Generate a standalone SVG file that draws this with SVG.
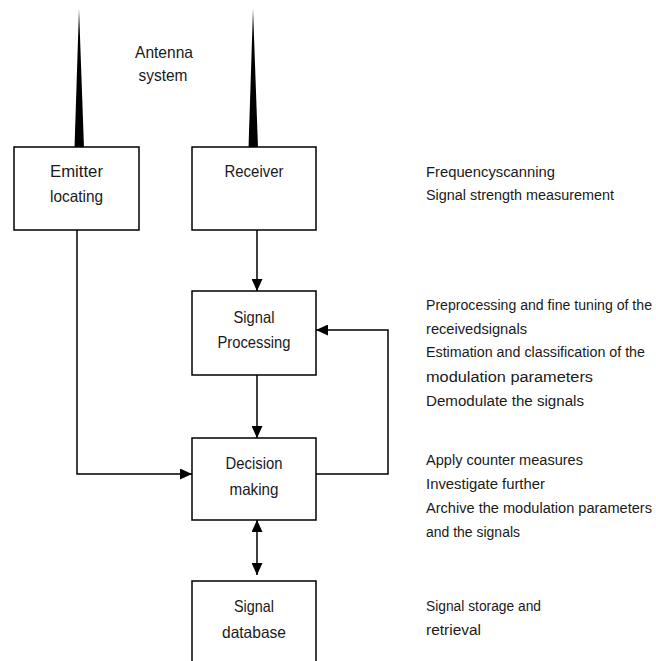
<svg xmlns="http://www.w3.org/2000/svg" width="656" height="661" viewBox="0 0 656 661">
<defs>
<marker id="ah" markerUnits="userSpaceOnUse" markerWidth="13" markerHeight="11" refX="12" refY="5.5" orient="auto-start-reverse">
<path d="M0,0 L12,5.5 L0,11 z" fill="#000"/>
</marker>
<style>
.box{fill:#fff;stroke:#000;stroke-width:1.5}
.lbl{font-family:"Liberation Sans",Arial,sans-serif;font-size:16.5px;fill:#1a1a1a;text-anchor:middle}
.note{font-family:"Liberation Sans",Arial,sans-serif;font-size:15.5px;fill:#1a1a1a}
.long{font-size:14px}
.con{fill:none;stroke:#000;stroke-width:1.5}
</style>
</defs>
<rect width="656" height="661" fill="#fff"/>
<g id="antenna">
<polygon points="79,9 74.5,148 84,148" fill="#000"/>
<polygon points="253,9 248.5,148 258,148" fill="#000"/>
<text class="lbl" x="164" y="58" textLength="58" lengthAdjust="spacingAndGlyphs">Antenna</text>
<text class="lbl" x="163" y="81" textLength="49" lengthAdjust="spacingAndGlyphs">system</text>
</g>
<g id="emitter">
<rect class="box" x="14" y="147" width="125" height="83"/>
<text class="lbl" x="76.5" y="177" textLength="53" lengthAdjust="spacingAndGlyphs">Emitter</text>
<text class="lbl" x="76.5" y="202" textLength="53" lengthAdjust="spacingAndGlyphs">locating</text>
</g>
<g id="receiver">
<rect class="box" x="192" y="147" width="124" height="83"/>
<text class="lbl" x="254" y="177" textLength="59" lengthAdjust="spacingAndGlyphs">Receiver</text>
</g>
<g id="signal-processing">
<rect class="box" x="192" y="291" width="124" height="84"/>
<text class="lbl" x="254" y="323" textLength="41" lengthAdjust="spacingAndGlyphs">Signal</text>
<text class="lbl" x="254" y="348" textLength="73" lengthAdjust="spacingAndGlyphs">Processing</text>
</g>
<g id="decision">
<rect class="box" x="192" y="438" width="124" height="82"/>
<text class="lbl" x="254" y="469" textLength="57" lengthAdjust="spacingAndGlyphs">Decision</text>
<text class="lbl" x="254" y="495" textLength="49" lengthAdjust="spacingAndGlyphs">making</text>
</g>
<g id="database">
<rect class="box" x="192" y="581" width="124" height="90"/>
<text class="lbl" x="254" y="612" textLength="40" lengthAdjust="spacingAndGlyphs">Signal</text>
<text class="lbl" x="254" y="638" textLength="64" lengthAdjust="spacingAndGlyphs">database</text>
</g>
<g id="connectors">
<path class="con" d="M257,230 V291" marker-end="url(#ah)"/>
<path class="con" d="M257,375 V438" marker-end="url(#ah)"/>
<path class="con" d="M316,474 H388 V330 H316" marker-end="url(#ah)"/>
<path class="con" d="M77,230 V474 H192" marker-end="url(#ah)"/>
<path class="con" d="M257,520 V575" marker-start="url(#ah)" marker-end="url(#ah)"/>
</g>
<g id="notes">
<text class="note" x="426" y="177" textLength="129" lengthAdjust="spacingAndGlyphs">Frequencyscanning</text>
<text class="note" x="426" y="200" textLength="188" lengthAdjust="spacingAndGlyphs">Signal strength measurement</text>
<text class="note long" x="426" y="310" textLength="226" lengthAdjust="spacingAndGlyphs">Preprocessing and fine tuning of the</text>
<text class="note" x="426" y="334" textLength="101" lengthAdjust="spacingAndGlyphs">receivedsignals</text>
<text class="note long" x="426" y="357" textLength="219" lengthAdjust="spacingAndGlyphs">Estimation and classification of the</text>
<text class="note" x="426" y="382" textLength="167" lengthAdjust="spacingAndGlyphs">modulation parameters</text>
<text class="note" x="426" y="406" textLength="158" lengthAdjust="spacingAndGlyphs">Demodulate the signals</text>
<text class="note" x="426" y="465" textLength="157" lengthAdjust="spacingAndGlyphs">Apply counter measures</text>
<text class="note" x="426" y="489" textLength="119" lengthAdjust="spacingAndGlyphs">Investigate further</text>
<text class="note long" x="426" y="513" textLength="226" lengthAdjust="spacingAndGlyphs">Archive the modulation parameters</text>
<text class="note" x="426" y="537" textLength="94" lengthAdjust="spacingAndGlyphs">and the signals</text>
<text class="note" x="426" y="611" textLength="115" lengthAdjust="spacingAndGlyphs">Signal storage and</text>
<text class="note" x="426" y="635" textLength="55" lengthAdjust="spacingAndGlyphs">retrieval</text>
</g>
</svg>
